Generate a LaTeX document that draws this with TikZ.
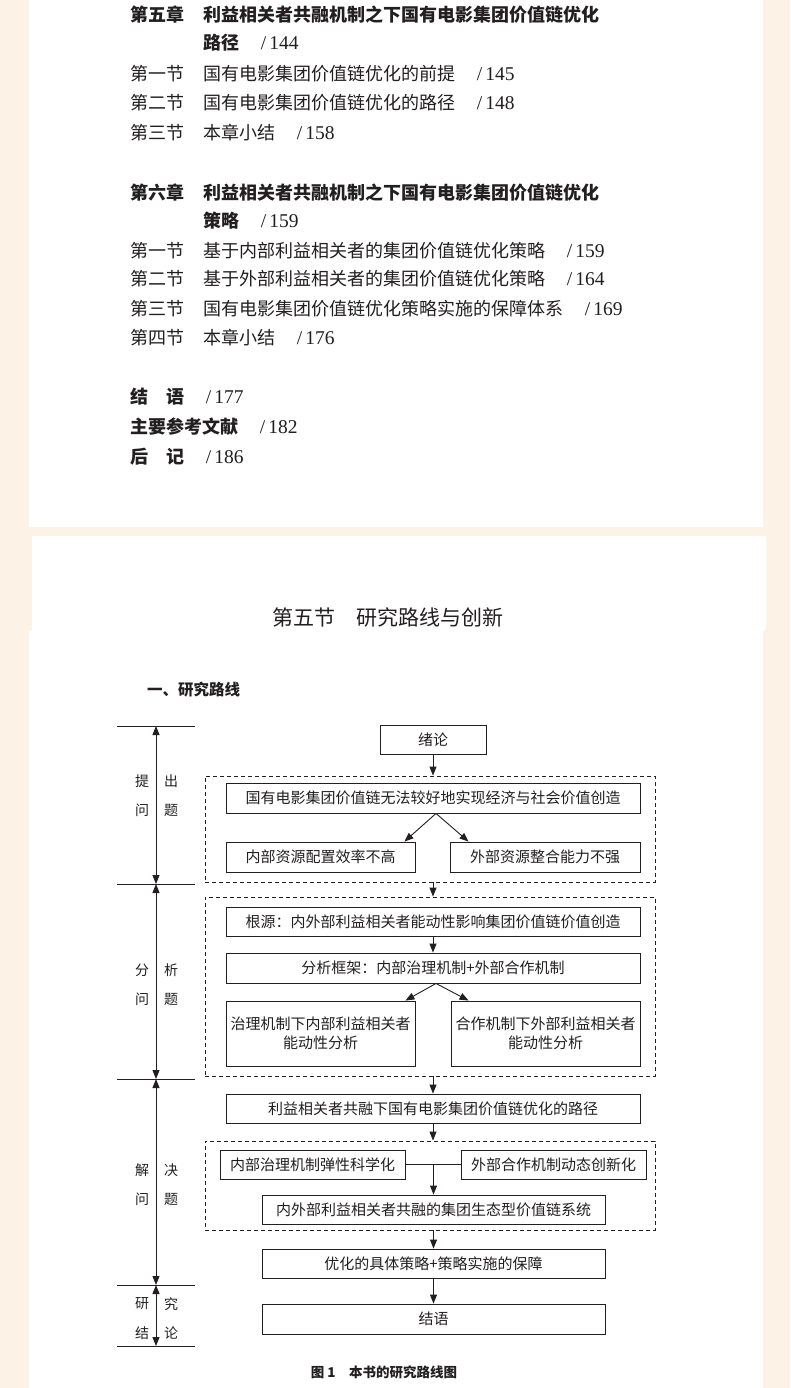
\documentclass[tikz,border=0pt]{standalone}
\usepackage{fontspec}
\setmainfont{Liberation Serif}
\newfontfamily\cjk{Noto Sans CJK SC}
\usetikzlibrary{arrows.meta,positioning,calc}
\definecolor{cream}{RGB}{252,243,230}
\definecolor{ink}{RGB}{35,31,32}
\newcommand{\tocpage}[1]{\hspace{1.2em}{\normalfont\fontsize{19.5}{22}\selectfont/\,#1}}

\tikzset{
  tocline/.style={anchor=west,inner sep=0pt,text=ink,font=\fontsize{18}{22}\selectfont\cjk},
  chapline/.style={tocline,font=\fontsize{18}{22}\selectfont\cjk\bfseries},
  stepbox/.style={draw=ink,line width=0.9pt,fill=white,inner sep=2pt,minimum height=30pt,
    align=center,text=ink,font=\fontsize{15}{19}\selectfont\cjk},
  dashframe/.style={draw=ink,line width=0.9pt,dash pattern=on 4pt off 3pt},
  flow/.style={->,draw=ink,line width=0.9pt},
  stage/.style={inner sep=0pt,text=ink,font=\fontsize{14}{16}\selectfont\cjk}
}

\begin{document}
\begin{tikzpicture}[x=1pt,y=-1pt,>={Triangle[length=9pt,width=7pt]}]
  \useasboundingbox (0,0) rectangle (790,1388);
  % pages
  \fill[cream] (0,0) rectangle (790,1388);
  \fill[white] (29,0) rectangle (763,527);
  \fill[white] (32,536) rectangle (766,630);
  \fill[white] (29,630) rectangle (763,1388);

  % contents page
  \node[chapline] (ch5) at (130,15) {第五章};
  \node[chapline] (ch5t) at (203,15) {利益相关者共融机制之下国有电影集团价值链优化};
  \node[chapline] (ch5p) at (203,43) {路径\tocpage{144}};
  \node[chapline] (ch6) at (130,193) {第六章};
  \node[chapline] (ch6t) at (203,193) {利益相关者共融机制之下国有电影集团价值链优化};
  \node[chapline] (ch6p) at (203,221) {策略\tocpage{159}};
  \foreach \y/\lab/\txt/\pg [count=\i] in {
    74/第一节/国有电影集团价值链优化的前提/145,
    103/第二节/国有电影集团价值链优化的路径/148,
    133/第三节/本章小结/158,
    251/第一节/基于内部利益相关者的集团价值链优化策略/159,
    279/第二节/基于外部利益相关者的集团价值链优化策略/164,
    309/第三节/国有电影集团价值链优化策略实施的保障体系/169,
    338/第四节/本章小结/176}
  {
    \node[tocline] (sec\i) at (130,\y) {\lab};
    \node[tocline] (sec\i t) at (203,\y) {\txt\tocpage{\pg}};
  }
  \foreach \y/\txt/\pg [count=\i] in {397/结\hspace{1em}语/177, 427/主要参考文献/182, 457/后\hspace{1em}记/186}
    \node[chapline] (end\i) at (130,\y) {\txt\tocpage{\pg}};

  % second page
  \node[inner sep=0pt,text=ink,font=\fontsize{21}{24}\selectfont\cjk] (sechead) at (388,617) {第五节\hspace{1em}研究路线与创新};
  \node[anchor=west,inner sep=0pt,text=ink,font=\fontsize{15.5}{18}\selectfont\cjk\bfseries] (subhead) at (147,690) {一、研究路线};

  % stages on the left
  \foreach \y [count=\i from 0] in {726,884,1079,1285,1346}
  {
    \coordinate (t\i) at (156,\y);
    \draw[ink,line width=0.9pt] ([xshift=-39pt]t\i) -- ([xshift=39pt]t\i);
  }
  \foreach \i/\j in {0/1,1/2,2/3,3/4}
    \draw[<->,ink,line width=0.9pt] (t\i) -- (t\j);
  \foreach \a/\b/\c/\d/\y [count=\i] in {提/出/问/题/781, 分/析/问/题/970, 解/决/问/题/1170, 研/究/结/论/1304}
  {
    \node[stage] (s\i-1) at (142,\y) {\a};
    \node[stage] (s\i-2) at (171,\y) {\b};
    \node[stage] (s\i-3) at (142,\y+29) {\c};
    \node[stage] (s\i-4) at (171,\y+29) {\d};
  }

  % dashed groups
  \node[dashframe,minimum width=450pt,minimum height=106pt] (frameA) at (430,829) {};
  \node[dashframe,minimum width=450pt,minimum height=179pt] (frameB) at (430,986.5) {};
  \node[dashframe,minimum width=450pt,minimum height=89pt] (frameC) at (430,1185.5) {};

  % flow boxes
  \node[stepbox,minimum width=106pt,minimum height=29pt] (intro) at (433,739.5) {绪论};
  \node[stepbox,minimum width=414pt] (A1) at (433,798) {国有电影集团价值链无法较好地实现经济与社会价值创造};
  \node[stepbox,minimum width=189pt] (A2) at (320.5,857) {内部资源配置效率不高};
  \node[stepbox,minimum width=190pt] (A3) at (545,857) {外部资源整合能力不强};
  \node[stepbox,minimum width=414pt,minimum height=29pt] (B1) at (433,921.5) {根源：内外部利益相关者能动性影响集团价值链价值创造};
  \node[stepbox,minimum width=414pt] (B2) at (433,968) {分析框架：内部治理机制+外部合作机制};
  \node[stepbox,minimum width=189pt,minimum height=65pt] (B3) at (320.5,1033.5) {治理机制下内部利益相关者\\能动性分析};
  \node[stepbox,minimum width=189pt,minimum height=65pt] (B4) at (545.5,1033.5) {合作机制下外部利益相关者\\能动性分析};
  \node[stepbox,minimum width=414pt,minimum height=29pt] (C1) at (433,1108.5) {利益相关者共融下国有电影集团价值链优化的路径};
  \node[stepbox,minimum width=185pt,minimum height=29pt] (D1) at (312.5,1164.5) {内部治理机制弹性科学化};
  \node[stepbox,minimum width=185pt,minimum height=29pt] (D2) at (553.5,1164.5) {外部合作机制动态创新化};
  \node[stepbox,minimum width=343pt,minimum height=29pt] (D3) at (433.5,1209.5) {内外部利益相关者共融的集团生态型价值链系统};
  \node[stepbox,minimum width=343pt,minimum height=29pt] (E1) at (433.5,1263.5) {优化的具体策略+策略实施的保障};
  \node[stepbox,minimum width=343pt] (E2) at (433.5,1319) {结语};

  % connectors
  \draw[flow] (intro) -- (intro |- frameA.north);
  \draw[flow] ([xshift=3pt]A1.south) -- ([xshift=-11pt]A2.north east);
  \draw[flow] ([xshift=3pt]A1.south) -- ([xshift=19pt]A3.north west);
  \draw[flow] (intro |- frameA.south) -- (intro |- frameB.north);
  \draw[flow] (B1) -- (B2);
  \draw[flow] ([xshift=3pt]B2.south) -- ([xshift=-10pt]B3.north east);
  \draw[flow] ([xshift=3pt]B2.south) -- ([xshift=18pt]B4.north west);
  \draw[flow] (C1 |- frameB.south) -- (C1.north);
  \draw[flow] (C1) -- (C1 |- frameC.north);
  \draw[ink,line width=0.9pt] (D1) -- (D2);
  \draw[flow] (D3.north |- D1.east) -- (D3.north);
  \draw[flow] (D3 |- frameC.south) -- (E1.north);
  \draw[flow] (E1) -- (E2);

  \node[inner sep=0pt,text=ink,font=\fontsize{13.5}{16}\selectfont\cjk\bfseries] (caption) at (384,1372) {图 1\hspace{1em}本书的研究路线图};
\end{tikzpicture}
\end{document}
